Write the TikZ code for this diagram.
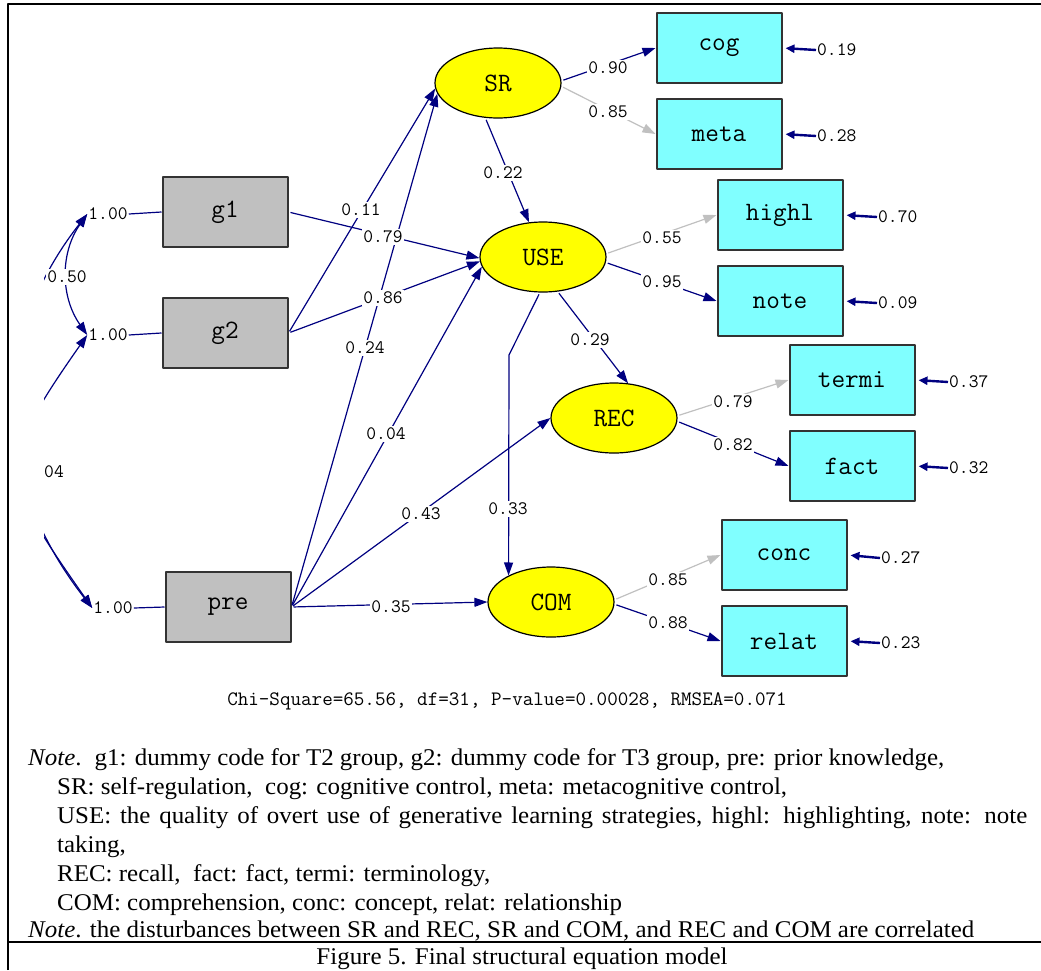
\documentclass[tikz,border=0pt]{standalone}
\usepackage{fontspec}
\setmainfont{Liberation Serif}[FakeStretch=1.04]
\usetikzlibrary{arrows.meta,shapes.geometric}
\definecolor{nv}{HTML}{000080}
\definecolor{lg}{HTML}{C0C0C0}
\definecolor{cy}{HTML}{80FFFF}
\definecolor{bx}{HTML}{C0C0C0}
\definecolor{yl}{HTML}{FFFF00}
\begin{document}
\begin{tikzpicture}[x=1pt,y=-1pt,line join=round,
  obs/.style={draw=black!80,line width=2pt,fill=cy,minimum width=125pt,minimum height=70pt,inner sep=0pt,font=\fontsize{26.5}{26.5}\selectfont\ttfamily},
  exo/.style={obs,fill=bx},
  lat/.style={ellipse,draw=black,line width=1.2pt,fill=yl,minimum width=126pt,minimum height=70pt,inner sep=0pt,font=\fontsize{26.5}{26.5}\selectfont\ttfamily},
  tipA/.tip={Triangle[length=13pt,width=9pt]},
  pth/.style={draw=nv,line width=1.2pt,shorten <=2pt,-tipA,fill=none},
  fix/.style={pth,draw=lg},
  cov/.style={draw=nv,line width=1.2pt,tipA-tipA},
  lbl/.style={fill=white,inner sep=1.5pt,font=\fontsize{19}{19}\selectfont\ttfamily},
  elbl/.style={inner sep=1pt,anchor=west,font=\fontsize{19}{19}\selectfont\ttfamily},
  err/.style={draw=nv,line width=2.4pt,shorten >=3pt,-{Triangle[length=9pt,width=8pt]}},
  txt/.style={anchor=base west,inner sep=0pt,font=\fontsize{24}{29}\selectfont},
  frm/.style={line width=2.2pt,black}]
\useasboundingbox (0,0) rectangle (1041,970);
% frame
\draw[frm] (8,970) -- (8,4) -- (1041,4);
\draw[frm] (8,942) -- (1041,942);

% nodes
\node[exo] (g1) at (225,212) {g1};
\node[exo] (g2) at (225,333) {g2};
\node[exo] (pre) at (228,607) {pre};
\node[lat] (SR) at (498,83) {SR};
\node[lat] (USE) at (543,257) {USE};
\node[lat] (REC) at (614,418) {REC};
\node[lat] (COM) at (551,602) {COM};
\node[obs] (cog) at (719,48) {cog};
\node[obs] (meta) at (719,134) {meta};
\node[obs] (highl) at (780,215) {highl};
\node[obs] (note) at (780,301) {note};
\node[obs] (termi) at (852,380) {termi};
\node[obs] (fact) at (852,466) {fact};
\node[obs] (conc) at (784,555) {conc};
\node[obs] (relat) at (784,641) {relat};

% variance labels on the left
\node[lbl,inner sep=1pt] (v1) at (108,214) {1.00};
\node[lbl,inner sep=1pt] (v2) at (108,335) {1.00};
\node[lbl,inner sep=1pt] (v3) at (113,608) {1.00};
\draw[nv,line width=1.2pt] (v1.east) -- (g1.west);
\draw[nv,line width=1.2pt] (v2.east) -- (g2.west);
\draw[nv,line width=1.2pt] (v3.east) -- (pre.west);

\begin{scope}
  \clip (44,150) rectangle (200,700);
  \draw[cov] (v1.west) to[out=235,in=125] (v2.west);
  \draw[cov] (v1.west) to[out=232,in=128,looseness=1.05] (v3.west);
  \draw[cov] (v2.west) to[out=235,in=125,looseness=1.5] (v3.west);
\end{scope}
\node[lbl] (c50) at (67,277) {0.50};
\node[lbl] (c04) at (54,472) {04};

% structural paths
\coordinate (bendc) at (509,355);
\draw[pth] (g2.east) -- (SR.185);
\draw[pth] (pre.east) -- (SR.190);
\draw[pth] (SR.250) -- (USE.112);
\draw[pth] (g1.east) -- (USE.181);
\draw[pth] (g2.east) -- (USE.184);
\draw[pth] (pre.east) -- (USE.189);
\draw[pth] (USE.293) -- (REC.68);
\draw[pth] (pre.east) -- (REC.180);
\draw[pth] (pre.east) -- (COM.180);
\draw[pth] (USE.265) -- (bendc) -- (COM.148);
% measurement paths
\draw[pth] (SR.2) -- (cog.west);
\draw[fix] (SR.357) -- (meta.west);
\draw[fix] (USE.3) -- (highl.west);
\draw[pth] (USE.355) -- (note.west);
\draw[fix] (REC.2) -- (termi.west);
\draw[pth] (REC.357) -- (fact.west);
\draw[fix] (COM.2) -- (conc.west);
\draw[pth] (COM.358) -- (relat.west);

% path labels
\node[lbl] (l11) at (361,210) {0.11};
\node[lbl] (l79a) at (383,237) {0.79};
\node[lbl] (l86) at (383,298) {0.86};
\node[lbl] (l24) at (365,348) {0.24};
\node[lbl] (l04) at (386,434) {0.04};
\node[lbl] (l43) at (421,514) {0.43};
\node[lbl] (l35) at (391,607) {0.35};
\node[lbl] (l22) at (503,173) {0.22};
\node[lbl] (l29) at (590,340) {0.29};
\node[lbl] (l33) at (508,509) {0.33};
\node[lbl] (l90) at (608,68) {0.90};
\node[lbl] (l85a) at (608,112) {0.85};
\node[lbl] (l55) at (662,238) {0.55};
\node[lbl] (l95) at (662,282) {0.95};
\node[lbl] (l79b) at (733,402) {0.79};
\node[lbl] (l82) at (733,445) {0.82};
\node[lbl] (l85b) at (668,580) {0.85};
\node[lbl] (l88) at (668,623) {0.88};

% error variances
\node[elbl] (ecog) at (816,50) {0.19};
\node[elbl] (emeta) at (816,136) {0.28};
\node[elbl] (ehighl) at (877,217) {0.70};
\node[elbl] (enote) at (877,303) {0.09};
\node[elbl] (etermi) at (948,382) {0.37};
\node[elbl] (efact) at (948,468) {0.32};
\node[elbl] (econc) at (880,558) {0.27};
\node[elbl] (erelat) at (880,643) {0.23};
\draw[err] (ecog.west) -- (cog.east);
\draw[err] (emeta.west) -- (meta.east);
\draw[err] (ehighl.west) -- (highl.east);
\draw[err] (enote.west) -- (note.east);
\draw[err] (etermi.west) -- (termi.east);
\draw[err] (efact.west) -- (fact.east);
\draw[err] (econc.west) -- (conc.east);
\draw[err] (erelat.west) -- (relat.east);

% fit line
\node[inner sep=0pt,font=\fontsize{20.5}{20.5}\selectfont\ttfamily] (fit) at (507,701) {Chi-Square=65.56, df=31, P-value=0.00028, RMSEA=0.071};

% notes
\node[txt] (n1) at (28,765) {\textit{Note}.\hspace{13pt}g1: dummy code for T2 group, g2: dummy code for T3 group, pre: prior knowledge,};
\node[txt] (n2) at (57,794) {SR: self-regulation,\ \ cog: cognitive control, meta: metacognitive control,};
\node[txt] (n3) at (57,823) {\makebox[970pt][s]{USE: the quality of overt use of generative learning strategies, highl: highlighting, note: note}};
\node[txt] (n4) at (57,852) {taking,};
\node[txt] (n5) at (57,881) {REC: recall,\ \ fact: fact, termi: terminology,};
\node[txt] (n6) at (57,910) {COM: comprehension, conc: concept, relat: relationship};
\node[txt] (n7) at (28,937) {\textit{Note}. the disturbances between SR and REC, SR and COM, and REC and COM are correlated};
\node[anchor=base,inner sep=0pt,font=\fontsize{24}{29}\selectfont] (cap) at (522,964) {Figure 5. Final structural equation model};
\end{tikzpicture}
\end{document}
